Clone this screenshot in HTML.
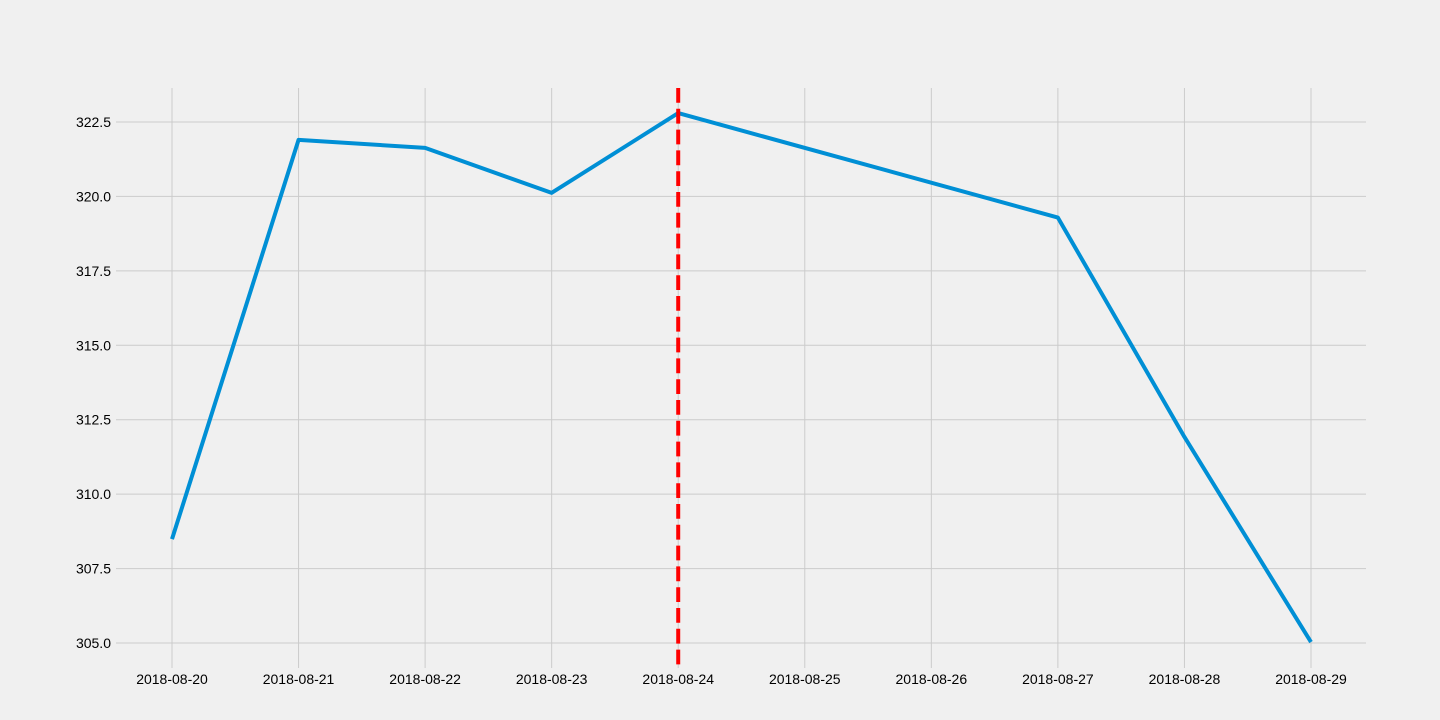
<!DOCTYPE html>
<html><head><meta charset="utf-8"><style>
html,body{margin:0;padding:0;background:#f0f0f0;}
svg{display:block;font-family:"Liberation Sans",sans-serif;}
</style></head><body>
<svg id="chart" width="1440" height="720"></svg>
<script>
const categories=["2018-08-20","2018-08-21","2018-08-22","2018-08-23","2018-08-24","2018-08-25","2018-08-26","2018-08-27","2018-08-28","2018-08-29"];
const seriesDays=[0,1,2,3,4,7,8,9];
const seriesValues=[308.49,321.9,321.63,320.12,322.8,319.29,311.92,305.03];
const yTicks=[305.0,307.5,310.0,312.5,315.0,317.5,320.0,322.5];
const markerDay=4;
const NS="http://www.w3.org/2000/svg";
const svg=document.getElementById('chart');
const L=116,R=1366,T=88,B=668;
const x=d=>172+d*(1311-172)/9;
const y=v=>643-(v-305)*(643-122)/17.5;
function el(t,a){const e=document.createElementNS(NS,t);for(const k in a)e.setAttribute(k,a[k]);svg.appendChild(e);return e;}
yTicks.forEach(v=>{
 const g=el('line',{x1:L,x2:R,y1:y(v),y2:y(v),stroke:'#cbcbcb','stroke-width':1});
 
 
 const t=el('text',{x:111,y:y(v)+5,'text-anchor':'end','font-size':14,fill:'#000'});
 t.textContent=v.toFixed(1);
 
 
});
categories.forEach((c,i)=>{
 const g=el('line',{x1:x(i),x2:x(i),y1:T,y2:B,stroke:'#cbcbcb','stroke-width':1});
 
 
 const t=el('text',{x:x(i),y:684,'text-anchor':'middle','font-size':14,fill:'#000'});
 t.textContent=c;
 
 
});
const pts=seriesDays.map((d,i)=>x(d)+','+y(seriesValues[i])).join(' ');
const line=el('polyline',{points:pts,fill:'none',stroke:'#008fd5','stroke-width':4,'stroke-linejoin':'round'});


const m=el('line',{x1:x(markerDay),x2:x(markerDay),y1:T,y2:670,stroke:'#ff0000','stroke-width':4,'stroke-dasharray':'14.8,6'});


</script>
</body></html>
